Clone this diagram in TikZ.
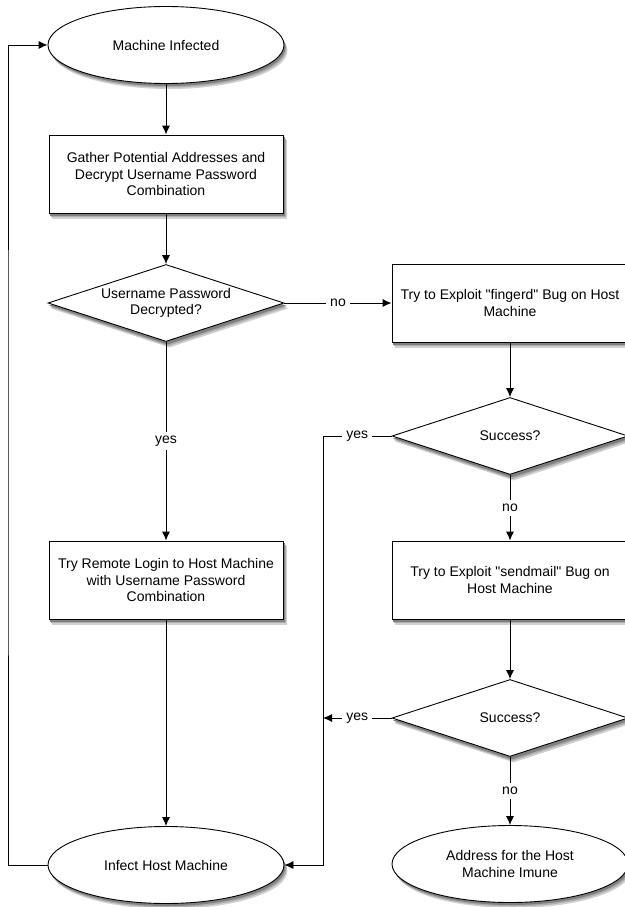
\documentclass[tikz,border=0pt]{standalone}
\usepackage{fontspec}
\newfontfamily\chartfont{Liberation Sans}
\usetikzlibrary{shapes.geometric, arrows.meta, backgrounds}

\begin{document}
\begin{tikzpicture}[x=1pt, y=1pt,
    every node/.style={font=\chartfont\fontsize{14}{16.7}\selectfont, align=center},
    terminal/.style={ellipse, draw, fill=white, minimum width=236pt, minimum height=77pt, inner sep=0pt},
    process/.style={rectangle, draw, fill=white, minimum width=234pt, minimum height=78pt, inner sep=0pt},
    decision/.style={diamond, draw, fill=white, aspect=3, minimum width=236pt, minimum height=77pt, inner sep=0pt},
    lbl/.style={fill=white, inner sep=4pt},
    arr/.style={-{Latex[length=9pt,width=8pt]}},
    line width=0.9pt]
  \useasboundingbox (0,0) rectangle (624,-907);

  % Left column
  \node[terminal] (start) at (166,-45) {Machine Infected};
  \node[process] (gather) at (166,-174) {Gather Potential Addresses and\\Decrypt Username Password\\Combination};
  \node[decision] (decrypt) at (166,-303) {Username Password\\Decrypted?};
  \node[process] (login) at (166,-580) {Try Remote Login to Host Machine\\with Username Password\\Combination};
  \node[terminal] (infect) at (166,-865) {Infect Host Machine};

  % Right column
  \node[process, minimum width=236pt] (fingerd) at (510,-303) {Try to Exploit "fingerd" Bug on Host\\Machine};
  \node[decision] (success1) at (510,-436) {Success?};
  \node[process, minimum width=236pt] (sendmail) at (510,-580) {Try to Exploit "sendmail" Bug on\\Host Machine};
  \node[decision] (success2) at (510,-718) {Success?};
  \node[terminal] (immune) at (510,-864) {Address for the Host\\Machine Imune};

  % Soft shadows behind the shapes
  \begin{scope}[on background layer]
    \foreach \dx/\dy/\g in {3.5/-5.5/18, 2.5/-4/32, 1.5/-2.5/50} {
      \foreach \n in {gather,login,fingerd,sendmail}
        \fill[black!\g] ([shift={(\dx,\dy)}]\n.north west) rectangle ([shift={(\dx,\dy)}]\n.south east);
      \foreach \n in {decrypt,success1,success2}
        \fill[black!\g] ([shift={(\dx,\dy)}]\n.north) -- ([shift={(\dx,\dy)}]\n.east)
          -- ([shift={(\dx,\dy)}]\n.south) -- ([shift={(\dx,\dy)}]\n.west) -- cycle;
      \foreach \n in {start,infect,immune}
        \fill[black!\g] ([shift={(\dx,\dy)}]\n.center) ellipse [x radius=118, y radius=38.5];
    }
  \end{scope}

  % Corners of the return lines
  \coordinate (loop) at (8,-450);
  \coordinate (yescorner) at (323,-436);

  % Connectors
  \draw[arr] (start) -- (gather);
  \draw[arr] (gather) -- (decrypt);
  \draw[arr] (decrypt.east) -- node[lbl] {no} (fingerd.west);
  \draw[arr] (decrypt.south) -- node[lbl] {yes} (login.north);
  \draw[arr] (login) -- (infect);
  \draw[arr] (fingerd) -- (success1);
  \draw[arr] (success1.south) -- node[lbl] {no} (sendmail.north);
  \draw[arr] (sendmail) -- (success2);
  \draw[arr] (success2.south) -- node[lbl] {no} (immune.north);
  \draw[arr] (success1.west) -- node[lbl] {yes} (yescorner) |- (infect.east);
  \draw[arr] (success2.west) -- node[lbl] {yes} (success2.west -| yescorner);
  \draw[arr] (infect.west) -| (loop) |- (start.west);

\end{tikzpicture}
\end{document}
